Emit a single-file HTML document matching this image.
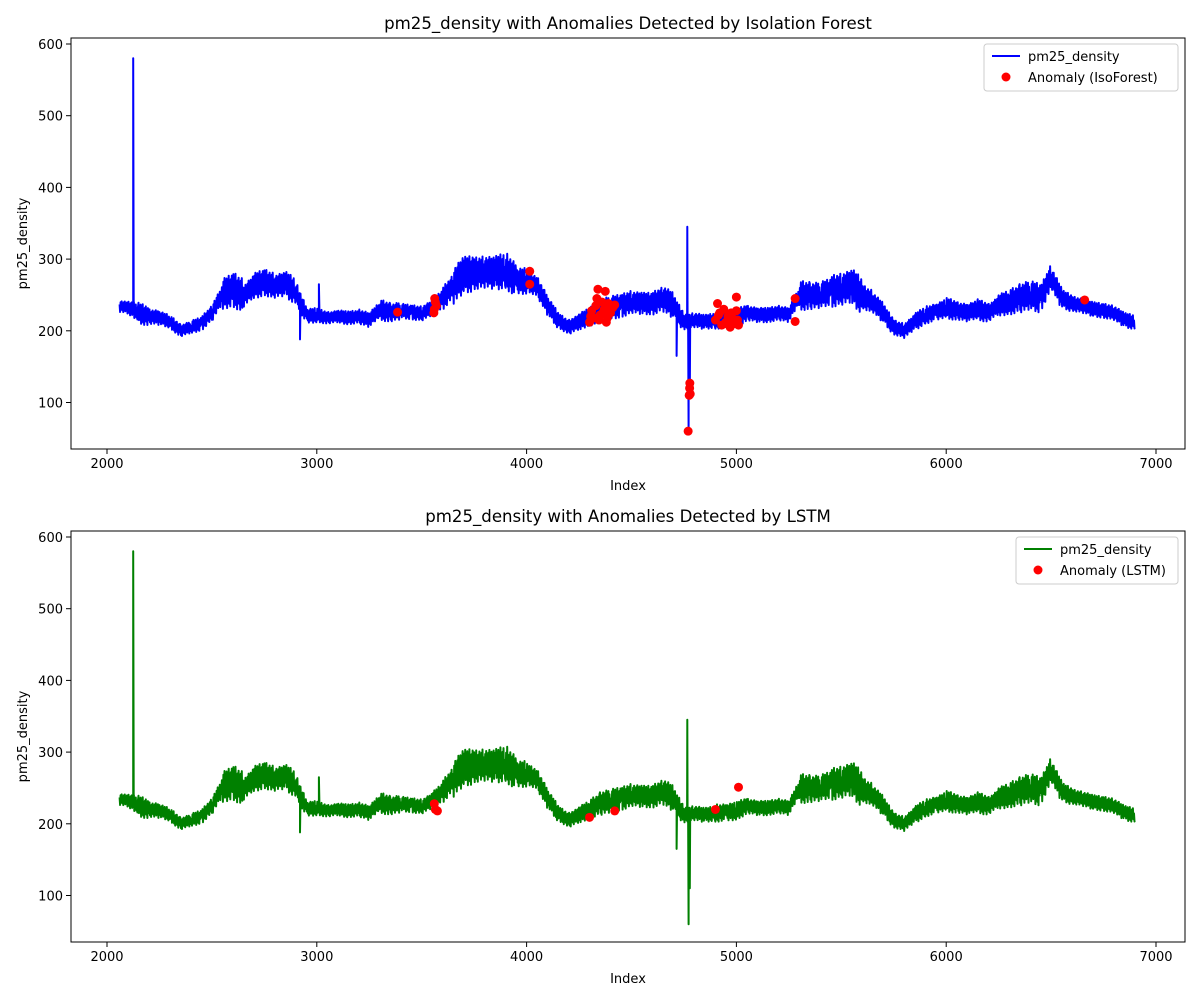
<!DOCTYPE html>
<html><head><meta charset="utf-8"><style>
body{margin:0;background:#fff;}
svg text{font-family:"DejaVu Sans","Liberation Sans",sans-serif;fill:#000;}
</style></head><body>
<svg id="s" width="1200" height="1000" xmlns="http://www.w3.org/2000/svg"></svg>
<script>
const idxStart=2050, idxStep=50;
const mid=[235,232,225,220,218,213,200,205,210,225,250,258,248,262,268,262,265,255,220,222,218,220,218,220,215,230,225,228,226,224,232,245,262,278,280,282,280,285,268,270,262,235,215,205,212,220,228,232,235,240,238,238,245,235,212,215,212,215,215,218,225,222,222,225,222,250,248,250,255,258,262,248,240,225,205,200,212,222,225,232,228,225,230,225,235,240,245,250,245,275,245,238,235,230,228,225,215,212];
const amp=[8,10,14,10,9,9,8,9,10,12,22,24,15,18,18,16,18,14,10,9,8,9,9,10,10,14,12,10,10,10,12,16,25,25,22,22,24,25,18,14,14,12,10,10,12,14,16,16,16,15,15,16,18,14,10,10,10,12,12,12,10,10,10,10,10,20,18,18,22,22,25,16,14,12,10,10,12,12,12,14,12,12,14,12,16,18,20,20,18,15,12,10,10,10,10,10,10,8];
const spikeIdx=[2125,2128,2920,2922,3010,4715,4717,4766,4769,4772,4775,4778];
const spikeVal=[580,240,188,225,265,165,215,345,210,60,180,110];
const anomTopIdx=[3385,3560,3565,3570,3558,3562,4015,4015,4300,4310,4320,4330,4340,4350,4360,4370,4375,4380,4390,4400,4410,4420,4305,4335,4345,4365,4385,4395,4770,4775,4777,4778,4780,4900,4910,4920,4930,4940,4950,4960,4970,4980,4990,5000,5005,5010,4915,4945,4975,5000,5280,5280,6660];
const anomTopVal=[226,230,240,235,225,245,283,265,212,228,218,235,258,222,240,230,255,212,238,225,232,236,220,245,215,226,218,230,60,110,120,127,112,215,238,225,208,230,212,220,205,218,210,228,215,208,222,210,225,247,245,213,243];
const anomBotIdx=[3560,3565,3575,4300,4420,4900,5010];
const anomBotVal=[228,220,218,209,218,220,251];
const xTicks=[2000,3000,4000,5000,6000,7000];
const yTicks=[100,200,300,400,500,600];
const noise=[0.6,-0.5,1,-0.8,0.3,-1,0.7,-0.3,0.9,-0.6,0.2,-0.9,0.8,-0.4,1,-0.7,0.5,-0.2,0.9,-1];

const svg=document.getElementById('s');
const NS='http://www.w3.org/2000/svg';
function el(t,a,p){const e=document.createElementNS(NS,t);for(const k in a)e.setAttribute(k,a[k]);(p||svg).appendChild(e);return e;}
let pts=[];
for(let i=0;i<mid.length;i++){for(let j=0;j<20;j++){const ix=idxStart+i*idxStep+j*2.5;if(ix>6900)break;const k=Math.min(i+1,mid.length-1);const m=mid[i]+(mid[k]-mid[i])*j/20;pts.push([ix,m+amp[i]*noise[(i*7+j)%20]]);}}
for(let i=0;i<spikeIdx.length;i++)pts.push([spikeIdx[i],spikeVal[i]]);
pts.sort((a,b)=>a[0]-b[0]);
pts=pts.filter(p=>p[0]>=2060);

function panel(top,title,color,lbl,aIdx,aVal,name){
  const L=71,R=1185,T=top,B=top+411;
  const g=el('g',{},svg);
  
  
  const sx=v=>107+(v-2000)*0.2098;
  const sy=v=>(T+6)+(600-v)*0.7170;
  const t=el('text',{x:(L+R)/2,y:T-9,'text-anchor':'middle','font-size':16.6},g);t.textContent=title;
  
  xTicks.forEach(v=>{el('line',{x1:sx(v),x2:sx(v),y1:B,y2:B+5,stroke:'#000'},g);const tx=el('text',{x:sx(v),y:B+19,'text-anchor':'middle','font-size':13},g);tx.textContent=v;
    });
  yTicks.forEach(v=>{el('line',{x1:L-5,x2:L,y1:sy(v),y2:sy(v),stroke:'#000'},g);const tx=el('text',{x:L-8,y:sy(v)+5,'text-anchor':'end','font-size':13},g);tx.textContent=v;
    });
  const xl=el('text',{x:(L+R)/2,y:B+41,'text-anchor':'middle','font-size':13},g);xl.textContent='Index';
  
  const yl=el('text',{x:0,y:0,'text-anchor':'middle','font-size':13,transform:`translate(27,${(T+B)/2}) rotate(-90)`},g);yl.textContent='pm25_density';
  
  const line=el('polyline',{points:pts.map(p=>sx(p[0]).toFixed(1)+','+sy(p[1]).toFixed(1)).join(' '),fill:'none',stroke:color,'stroke-width':2,'stroke-linejoin':'round'},g);
  
  for(let i=0;i<aIdx.length;i++){const c=el('circle',{cx:sx(aIdx[i]),cy:sy(aVal[i]),r:4.5,fill:'#ff0000'},g);
    }
  el('rect',{x:L,y:T,width:R-L,height:B-T,fill:'none',stroke:'#000','stroke-width':1},g);
  const lw=lbl.length>18?194:162;
  const lg=el('g',{},g);
  el('rect',{x:R-7-lw,y:T+6,width:lw,height:47,rx:3,fill:'#fff',stroke:'#ccc'},lg);
  const lx=R-7-lw+8;
  el('line',{x1:lx,x2:lx+28,y1:T+18,y2:T+18,stroke:color,'stroke-width':2},lg);
  const t1=el('text',{x:lx+36,y:T+23,'font-size':13},lg);t1.textContent='pm25_density';
  el('circle',{cx:lx+14,cy:T+39,r:4.5,fill:'#ff0000'},lg);
  const t2=el('text',{x:lx+36,y:T+44,'font-size':13},lg);t2.textContent=lbl;
}
panel(38,'pm25_density with Anomalies Detected by Isolation Forest','#0000ff','Anomaly (IsoForest)',anomTopIdx,anomTopVal,'isoforest-chart');
panel(531,'pm25_density with Anomalies Detected by LSTM','#008000','Anomaly (LSTM)',anomBotIdx,anomBotVal,'lstm-chart');
</script>
</body></html>
